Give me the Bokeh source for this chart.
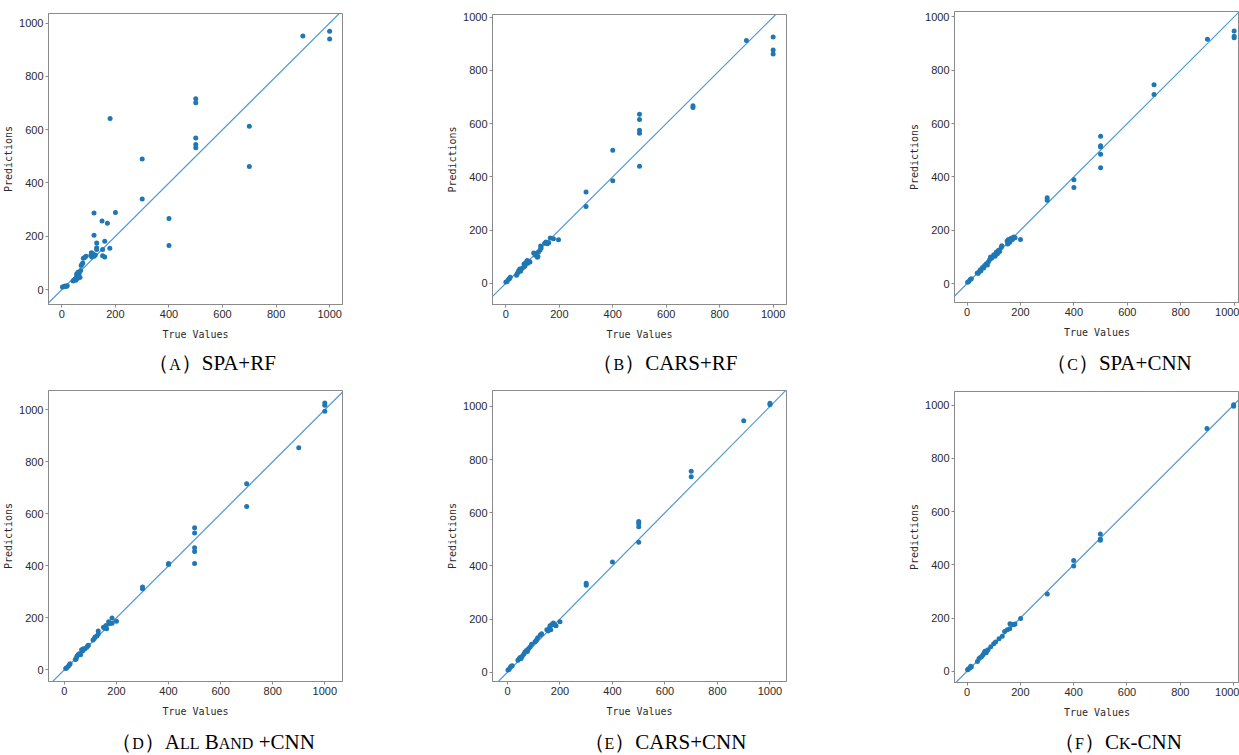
from bokeh.plotting import figure
from bokeh.layouts import row, column
from bokeh.models import Div, Range1d, FixedTicker
from bokeh.embed import file_html
from bokeh.resources import INLINE

# ---------------- data ----------------
ticks = [0, 200, 400, 600, 800, 1000]
diag = [-100, 1100]  # y = x reference line

a_true = [2, 6, 12, 16, 20, 42, 45, 50, 52, 55, 55, 58, 60, 60, 62, 65, 68, 70, 72, 75, 78, 80, 85, 90,
          108, 110, 112, 115, 120, 120, 120, 125, 130, 130, 130, 150, 152, 152, 160, 160, 170, 179, 180,
          200, 300, 300, 400, 400, 500, 500, 500, 500, 500, 700, 700, 900, 1000, 1000]
a_pred = [10, 11, 13, 12, 14, 32, 36, 40, 35, 48, 58, 42, 55, 65, 50, 62, 45, 72, 90, 95, 100, 118, 120, 125,
          128, 138, 122, 135, 125, 204, 287, 130, 150, 157, 175, 257, 127, 150, 122, 181, 249, 155, 642,
          289, 340, 490, 165, 267, 532, 544, 569, 701, 716, 462, 613, 952, 940, 969]

b_true = [0, 5, 10, 14, 16, 40, 42, 45, 48, 52, 55, 60, 66, 68, 72, 75, 80, 82, 88, 90, 104, 110, 116, 118,
          120, 122, 128, 130, 132, 145, 150, 155, 160, 166, 178, 197, 300, 300, 400, 400, 500, 500, 500,
          500, 500, 700, 700, 900, 1000, 1000, 1000]
b_pred = [5, 6, 15, 18, 22, 30, 35, 40, 47, 53, 45, 55, 60, 72, 66, 78, 85, 75, 82, 80, 114, 105, 114, 98,
          100, 117, 125, 140, 132, 150, 155, 148, 152, 170, 167, 163, 288, 343, 385, 500, 440, 564, 575,
          615, 635, 660, 667, 912, 862, 877, 925]

c_true = [2, 6, 12, 16, 38, 42, 46, 50, 52, 58, 62, 66, 72, 76, 80, 85, 88, 92, 100, 105, 110, 114, 118,
          122, 128, 130, 150, 152, 155, 160, 165, 170, 175, 180, 200, 300, 300, 400, 400, 500, 500, 500,
          500, 500, 700, 700, 900, 1000, 1000, 1000]
c_pred = [5, 8, 15, 18, 40, 38, 45, 52, 48, 60, 58, 68, 74, 70, 82, 90, 100, 95, 108, 102, 118, 112, 125,
          120, 135, 142, 160, 148, 165, 155, 170, 165, 175, 172, 165, 312, 322, 360, 389, 434, 485, 512,
          517, 552, 709, 745, 916, 922, 927, 947]

d_true = [5, 9, 15, 20, 22, 42, 45, 47, 50, 54, 58, 62, 66, 70, 73, 78, 86, 90, 92, 110, 115, 118, 125,
          130, 130, 150, 155, 160, 162, 170, 175, 183, 183, 200, 300, 300, 400, 400, 500, 500, 500, 500,
          500, 700, 700, 900, 1000, 1000, 1000]
d_pred = [5, 8, 14, 20, 23, 40, 42, 49, 55, 60, 62, 58, 77, 72, 81, 80, 87, 92, 94, 115, 120, 126, 130,
          138, 149, 164, 160, 170, 158, 185, 178, 199, 179, 187, 312, 318, 405, 409, 409, 455, 469, 526,
          546, 628, 715, 854, 994, 1017, 1026]

e_true = [2, 6, 10, 14, 18, 40, 44, 48, 52, 56, 62, 66, 72, 76, 80, 86, 92, 105, 110, 115, 125, 130, 150,
          155, 160, 162, 165, 170, 175, 180, 185, 200, 300, 300, 400, 500, 500, 500, 500, 700, 700, 900,
          1000, 1000]
e_pred = [8, 10, 18, 22, 24, 45, 50, 55, 52, 60, 68, 75, 82, 78, 88, 95, 105, 115, 120, 130, 140, 145, 160,
          155, 165, 175, 160, 180, 185, 178, 175, 190, 327, 335, 415, 489, 547, 560, 567, 735, 756, 946,
          1006, 1012]

f_true = [2, 5, 10, 14, 16, 39, 45, 50, 55, 60, 64, 67, 72, 76, 79, 89, 100, 107, 120, 132, 141, 151, 160,
          161, 170, 176, 180, 201, 301, 400, 400, 500, 500, 500, 900, 1000, 1000]
f_pred = [6, 9, 12, 19, 16, 37, 48, 52, 56, 62, 69, 75, 70, 78, 81, 92, 104, 110, 122, 132, 150, 156, 160,
          179, 175, 176, 178, 198, 290, 396, 416, 492, 497, 516, 912, 996, 1001]

captions = [
    "（<span style='font-size:16px'>A</span>）SPA+RF",
    "（<span style='font-size:16px'>B</span>）CARS+RF",
    "（<span style='font-size:16px'>C</span>）SPA+CNN",
    "（<span style='font-size:16px'>D</span>）A<span style='font-size:16px'>LL</span> "
    "B<span style='font-size:16px'>AND</span> +CNN",
    "（<span style='font-size:16px'>E</span>）CARS+CNN",
    "（<span style='font-size:16px'>F</span>）C<span style='font-size:16px'>K</span>-CNN",
]

AXIS_GRAY = "#8a8a8a"
POINT = "#1f77b4"
LINE = "#4f96d2"


def make_fig(xs, ys, w, h, bl, br, bt, bb, xr, yr):
    p = figure(width=w, height=h, x_range=Range1d(*xr), y_range=Range1d(*yr),
               output_backend="svg", toolbar_location=None,
               x_axis_label="True Values", y_axis_label="Predictions")
    p.min_border_left = bl
    p.min_border_right = br
    p.min_border_top = bt
    p.min_border_bottom = bb
    p.background_fill_color = "white"
    p.border_fill_color = "white"
    p.outline_line_color = AXIS_GRAY
    p.outline_line_width = 1
    p.xgrid.visible = False
    p.ygrid.visible = False
    for ax in (p.xaxis[0], p.yaxis[0]):
        ax.ticker = FixedTicker(ticks=ticks)
        ax.axis_line_color = AXIS_GRAY
        ax.major_tick_line_color = AXIS_GRAY
        ax.major_tick_out = 3
        ax.major_tick_in = 0
        ax.minor_tick_line_color = None
        ax.major_label_standoff = 2
        ax.major_label_text_font = "Liberation Sans"
        ax.major_label_text_font_size = "11px"
        ax.major_label_text_color = "#2a2a2a"
        ax.axis_label_text_font = "DejaVu Sans Mono"
        ax.axis_label_text_font_size = "10px"
        ax.axis_label_text_font_style = "normal"
        ax.axis_label_text_color = "#2a2a2a"
    p.xaxis[0].axis_label_standoff = 8
    p.yaxis[0].axis_label_standoff = 2
    p.line(diag, diag, line_color=LINE, line_width=1.2)
    p.scatter(xs, ys, size=5, fill_color=POINT, line_color=None)
    return p


def cap(html, w, h, center, pad_top):
    box = 300
    return Div(text=(f'<div style="margin-left:{center - box // 2}px;width:{box}px;text-align:center;'
                     f'font-family:\'Liberation Serif\',serif;font-size:21px;line-height:24px;'
                     f'padding-top:{pad_top}px;white-space:nowrap;color:#000;">{html}</div>'),
               width=w, height=h, margin=0)


fa = make_fig(a_true, a_pred, 420, 350, 48, 78, 13, 46, (-50, 1048), (-56, 1036))
fb = make_fig(b_true, b_pred, 430, 350, 72, 64, 14, 46, (-50, 1050), (-80, 1010))
fc = make_fig(c_true, c_pred, 389, 350, 104, 0, 11, 48, (-47, 1020), (-71, 1020))
fd = make_fig(d_true, d_pred, 420, 345, 48, 78, 10, 44, (-61, 1068), (-45, 1074))
fe = make_fig(e_true, e_pred, 430, 345, 72, 64, 10, 44, (-57, 1063), (-35, 1060))
ff = make_fig(f_true, f_pred, 389, 345, 104, 0, 11, 43, (-47, 1022), (-42, 1051))

ca = cap(captions[0], 420, 30, 212, 1)
cb = cap(captions[1], 430, 30, 245, 1)
cc = cap(captions[2], 389, 30, 269, 1)
cd = cap(captions[3], 420, 30, 213, 5)
ce = cap(captions[4], 430, 30, 245, 5)
cf = cap(captions[5], 389, 30, 268, 5)

layout = column(
    row(column(fa, ca), column(fb, cb), column(fc, cc)),
    row(column(fd, cd), column(fe, ce), column(ff, cf)),
)

open("out.html", "w").write(file_html(layout, INLINE))
